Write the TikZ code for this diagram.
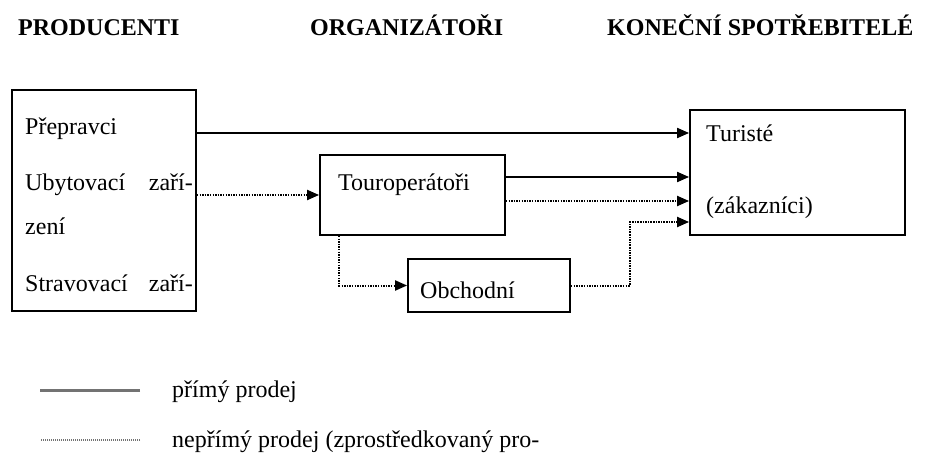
\documentclass[tikz,border=0pt]{standalone}
\usepackage{fontspec}
\setmainfont{Liberation Serif}
\usetikzlibrary{arrows.meta,positioning}

\begin{document}
\begin{tikzpicture}[x=1pt,y=-1pt,
        box/.style={draw,line width=1.8pt,inner sep=0pt},
        head/.style={anchor=base west,inner sep=0pt,font=\fontsize{24}{28}\selectfont\bfseries},
        txt/.style={anchor=base west,inner sep=0pt,font=\fontsize{24}{28}\selectfont},
        direct/.style={line width=1.8pt,-{Triangle[length=12pt,width=10pt]}},
        indirect/.style={line width=2pt,dash pattern=on 1.5pt off 1.1pt,
                         -{Triangle[length=12pt,width=10pt]}}]
        \useasboundingbox (0,0) rectangle (926,457);

        % column heads
        \node[head] (hprod) at (18,36)  {PRODUCENTI};
        \node[head] (horg)  at (310,36) {ORGANIZÁTOŘI};
        \node[head] (hspot) at (607,36) {KONEČNÍ SPOTŘEBITELÉ};

        % boxes
        \node[box,minimum width=184pt,minimum height=221pt] (prod) at (104,200.5) {};
        \node[box,minimum width=185pt,minimum height=80pt]  (tour) at (412.5,195) {};
        \node[box,minimum width=162pt,minimum height=53pt]  (obch) at (489,285.5) {};
        \node[box,minimum width=215pt,minimum height=125pt] (tur)  at (797.5,172.5) {};

        % box texts
        \node[txt] (prep) at (25,135)  {Přepravci};
        \node[txt] (uby)  at (25,191)  {Ubytovací};
        \node[txt,anchor=base east] (uby2) at (193,191) {zaří-};
        \node[txt] (zeni) at (25,234)  {zení};
        \node[txt] (strav) at (25,291) {Stravovací};
        \node[txt,anchor=base east] (strav2) at (193,291) {zaří-};
        \node[txt] (ttour) at (338,191) {Touroperátoři};
        \node[txt] (tobch) at (420,298) {Obchodní};
        \node[txt] (ttur)  at (706,142) {Turisté};
        \node[txt] (tzak)  at (706,214) {(zákazníci)};

        % connectors
        \coordinate (p1) at ([yshift=39.5pt]tur.west);
        \coordinate (t1) at ([yshift=18pt]tour.east);
        \coordinate (t2) at ([yshift=-6pt]tour.east);
        \coordinate (k)  at ([xshift=-59pt,yshift=-49.5pt]tur.west);
        \draw[direct]   (prod.east |- p1) -- (p1);
        \draw[indirect] (prod.east |- tour.west) -- (tour.west);
        \draw[direct]   (t1) -- (t1 -| tur.west);
        \draw[indirect] (t2) -- (t2 -| tur.west);
        \draw[indirect] ([xshift=20pt]tour.south west) |- (obch.west);
        \draw[indirect] (obch.east) -| (k) -- (k -| tur.west);

        % legend
        \node[txt] (lgd1) at (172,397) {přímý prodej};
        \node[txt] (lgd2) at (172,447) {nepřímý prodej (zprostředkovaný pro-};
        \draw[gray!90!black,line width=3pt] ([xshift=-32pt,yshift=7pt]lgd1.base west) -- ++(-100,0);
        \draw[gray!90!black,line width=1.3pt,dash pattern=on 1pt off 1pt] ([xshift=-32pt,yshift=7pt]lgd2.base west) -- ++(-100,0);
      \end{tikzpicture}
\end{document}
